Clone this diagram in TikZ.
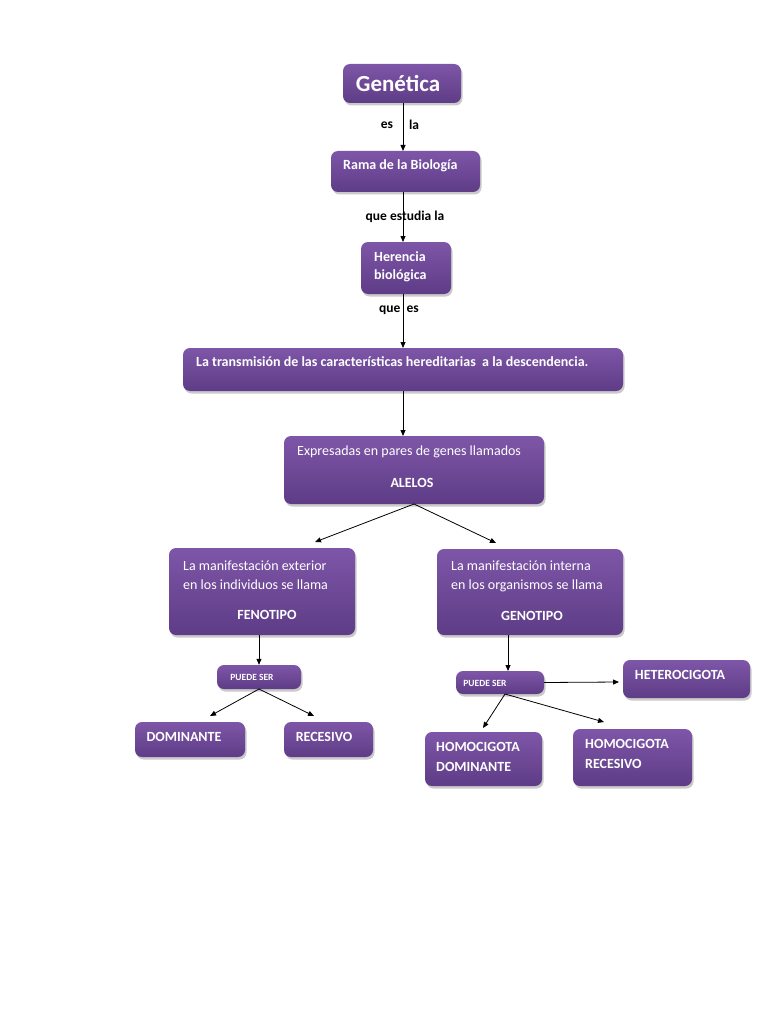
\documentclass[tikz,border=0pt]{standalone}
\usepackage{fontspec}
\setmainfont{Carlito}
\usetikzlibrary{arrows.meta,shadows}
\definecolor{boxtop}{RGB}{126,86,168}
\definecolor{boxbot}{RGB}{94,60,134}
\tikzset{
  box/.style={rectangle, rounded corners=7pt, top color=boxtop, bottom color=boxbot, draw=none,
    inner sep=0pt, drop shadow={shadow xshift=1.5pt, shadow yshift=-2.5pt, opacity=0.35, fill=black!60}},
  txt/.style={inner sep=0pt, text=white, font=\bfseries\fontsize{14}{16}\selectfont},
  reg/.style={inner sep=0pt, text=white, font=\fontsize{14}{16}\selectfont},
  small/.style={inner sep=0pt, text=white, font=\bfseries\fontsize{9.5}{10}\selectfont},
  lbl/.style={inner sep=0pt, text=black, font=\bfseries\fontsize{13.5}{15}\selectfont},
  arr/.style={-{Triangle[length=6pt,width=5pt]}, line width=0.8pt, black}
}
\begin{document}
\begin{tikzpicture}[x=1pt,y=-1pt]
\useasboundingbox (0,0) rectangle (768,1024);
% boxes
\node[box, minimum width=118pt, minimum height=39pt] (gen) at (402,83.5) {};
\node[box, minimum width=149pt, minimum height=41pt] (rama) at (405.5,171.5) {};
\node[box, minimum width=90pt, minimum height=52pt] (her) at (406,268) {};
\node[box, minimum width=440pt, minimum height=43pt] (tra) at (403,369.5) {};
\node[box, minimum width=260pt, minimum height=68pt] (exp) at (414,470) {};
\node[box, minimum width=186pt, minimum height=87pt] (feno) at (262,591.5) {};
\node[box, minimum width=186pt, minimum height=86pt] (geno) at (530,592) {};
\node[box, minimum width=84pt, minimum height=24pt] (pl) at (259,677) {};
\node[box, minimum width=88pt, minimum height=23pt] (pr) at (500,682.5) {};
\node[box, minimum width=110pt, minimum height=35pt] (dom) at (190,739.5) {};
\node[box, minimum width=89pt, minimum height=35pt] (rec) at (328.5,739.5) {};
\node[box, minimum width=127pt, minimum height=38pt] (het) at (686.5,679) {};
\node[box, minimum width=117pt, minimum height=54pt] (hd) at (483.5,759) {};
\node[box, minimum width=119pt, minimum height=57pt] (hr) at (632.5,757.5) {};
% texts
\node[inner sep=0pt, text=white, font=\bfseries\fontsize{23}{25}\selectfont] (tgen) at (398,84) {Genética};
\node[txt, anchor=west] (trama) at (343,166) {Rama de la Biología};
\node[txt, anchor=west] (ther1) at (374,257) {Herencia};
\node[txt, anchor=west] (ther2) at (374,276) {biológica};
\node[txt, anchor=west] (ttra) at (196,362) {La transmisión de las características hereditarias\ \ a la descendencia.};
\node[reg, anchor=west] (texp) at (297,452) {Expresadas en pares de genes llamados};
\node[txt] (talel) at (412,483) {ALELOS};
\node[reg, anchor=west] (tfe1) at (183,566) {La manifestación exterior};
\node[reg, anchor=west] (tfe2) at (183,585) {en los individuos se llama};
\node[txt] (tfe3) at (267,615) {FENOTIPO};
\node[reg, anchor=west] (tge1) at (451,566) {La manifestación interna};
\node[reg, anchor=west] (tge2) at (451,586) {en los organismos se llama};
\node[txt] (tge3) at (532,616) {GENOTIPO};
\node[small] (tpl) at (252,677) {PUEDE SER};
\node[small] (tpr) at (485,683) {PUEDE SER};
\node[txt] (tdom) at (184,737) {DOMINANTE};
\node[txt] (trec) at (324,737) {RECESIVO};
\node[txt] (thet) at (680,675) {HETEROCIGOTA};
\node[txt, anchor=west] (thd1) at (436,747) {HOMOCIGOTA};
\node[txt, anchor=west] (thd2) at (436,767) {DOMINANTE};
\node[txt, anchor=west] (thr1) at (585,744) {HOMOCIGOTA};
\node[txt, anchor=west] (thr2) at (585,764) {RECESIVO};
% link labels
\node[lbl] (les) at (387,125) {es};
\node[lbl] (lla) at (414,125) {la};
\node[lbl] (lque) at (405,217) {que estudia la};
\node[lbl] (lqe) at (399,310) {que\ \ es};
% coordinates
\coordinate (c1) at (403,103);
\coordinate (c2) at (403,151);
\coordinate (c3) at (403,192);
\coordinate (c4) at (403,242);
\coordinate (c5) at (403,294);
\coordinate (c6) at (403,348);
\coordinate (c7) at (403,391);
\coordinate (c8) at (403,436);
\coordinate (e0) at (414,504);
\coordinate (e1) at (315,542);
\coordinate (e2) at (496,543);
\coordinate (l0) at (259,689);
\coordinate (l1) at (210,716);
\coordinate (l2) at (314,716);
\coordinate (r0) at (505,694);
\coordinate (r1) at (483,728);
\coordinate (r2) at (604,722);
\coordinate (rh) at (619,682);
% arrows
\draw[arr] (c1) -- (c2);
\draw[arr] (c3) -- (c4);
\draw[arr] (c5) -- (c6);
\draw[arr] (c7) -- (c8);
\draw[arr] (e0) -- (e1);
\draw[arr] (e0) -- (e2);
\draw[arr] (feno.south -| pl.north) -- (pl.north);
\draw[arr] (geno.south -| 508,0) -- (508,671);
\draw[arr] (l0) -- (l1);
\draw[arr] (l0) -- (l2);
\draw[arr] (pr.east) -- (rh);
\draw[arr] (r0) -- (r1);
\draw[arr] (r0) -- (r2);
\end{tikzpicture}
\end{document}
